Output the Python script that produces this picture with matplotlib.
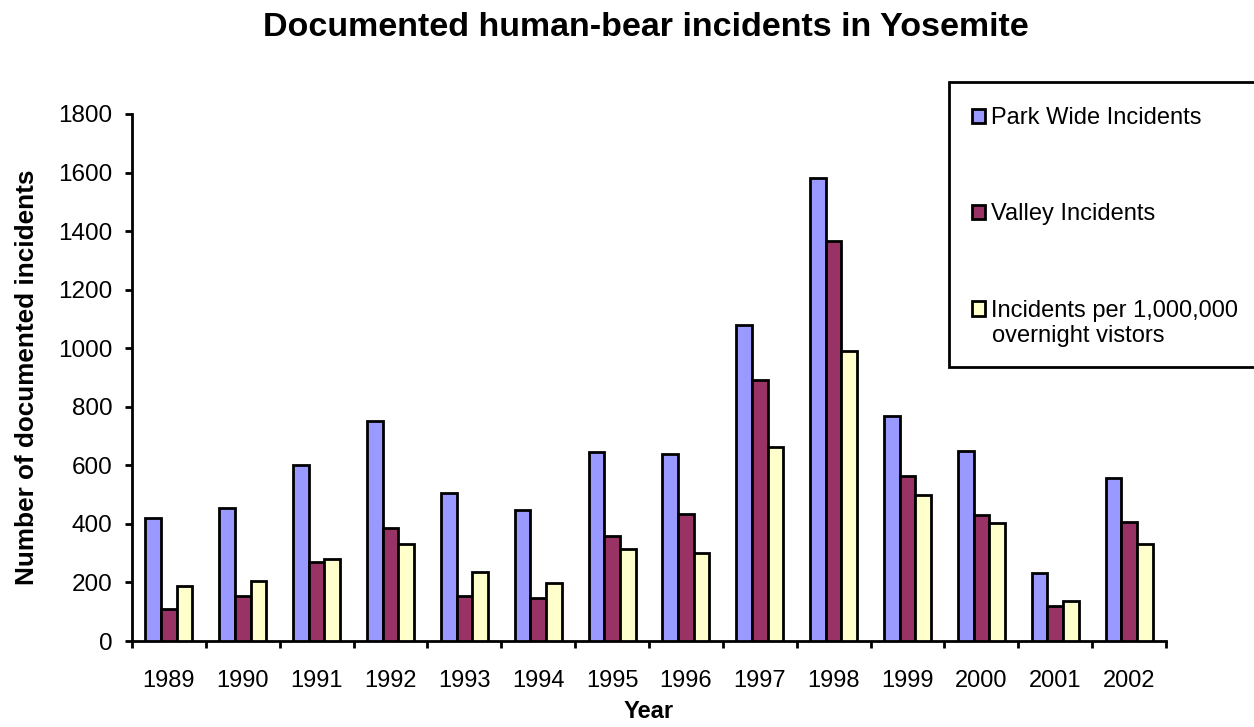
import numpy as np
from matplotlib import pyplot as plt
from matplotlib.patches import Rectangle

plt.rcParams['font.family'] = ['Liberation Sans', 'DejaVu Sans']

years = ['1989', '1990', '1991', '1992', '1993', '1994', '1995',
         '1996', '1997', '1998', '1999', '2000', '2001', '2002']
park_wide = [420, 453, 600, 750, 507, 447, 644, 639, 1081, 1583, 767, 650, 231, 556]
valley = [110, 155, 270, 386, 155, 148, 358, 435, 892, 1367, 563, 430, 119, 407]
per_million = [187, 205, 280, 331, 236, 197, 315, 302, 663, 992, 497, 402, 137, 332]

series_names = ['Park Wide Incidents', 'Valley Incidents', 'Incidents per 1,000,000']
series_colors = ['#9999FF', '#993366', '#FFFFCC']

W, H = 1254, 727
fig = plt.figure(figsize=(W / 100, H / 100), dpi=100)
ax = fig.add_axes([132 / W, 1 - 641 / H, (1166 - 132) / W, (641 - 114) / H])

x = np.arange(len(years))
bw = 0.212
for i, (vals, col, name) in enumerate(zip([park_wide, valley, per_million], series_colors, series_names)):
    ax.bar(x + (i - 1) * bw, vals, bw, color=col, edgecolor='black', linewidth=2,
           label=name, zorder=3)

ax.set_xlim(-0.5, len(years) - 0.5)
ax.set_ylim(0, 1800)
ax.set_yticks(range(0, 1801, 200))
ax.set_xticks(x)
ax.set_xticklabels(years)
ax.set_xticks(np.arange(-0.5, len(years), 1), minor=True)
ax.tick_params(axis='x', which='major', length=0, pad=21, labelsize=17)
ax.tick_params(axis='x', which='minor', length=5, width=2, direction='out')
ax.tick_params(axis='y', length=5, width=2, direction='out', pad=9, labelsize=17.5)

for s in ['top', 'right']:
    ax.spines[s].set_visible(False)
for s in ['left', 'bottom']:
    ax.spines[s].set_linewidth(2)

ax.set_ylabel('Number of documented incidents', fontsize=18.8, fontweight='bold', labelpad=14)
ax.set_xlabel('Year', fontsize=17, fontweight='bold', labelpad=6)
fig.text(646 / W, 1 - 28 / H, 'Documented human-bear incidents in Yosemite',
         ha='center', va='center', fontsize=24.5, fontweight='bold')

# legend box runs off the right edge like the original
fig.patches.append(Rectangle((949 / W, 1 - 367 / H), (W + 10 - 949) / W, (367 - 82) / H,
                             transform=fig.transFigure, facecolor='white',
                             edgecolor='black', linewidth=2, clip_on=False))
leg = fig.legend(loc='upper left', bbox_to_anchor=(972 / W, 1 - 107 / H), frameon=False,
                 fontsize=17, handlelength=0.55, handleheight=0.55, handletextpad=0.25,
                 labelspacing=3.15, borderaxespad=0, borderpad=0)
# second line of the last legend entry sits under its text
fig.text(992 / W, 1 - 336 / H, 'overnight vistors', fontsize=17, ha='left', va='center')

fig.savefig('out.png', dpi=100)
